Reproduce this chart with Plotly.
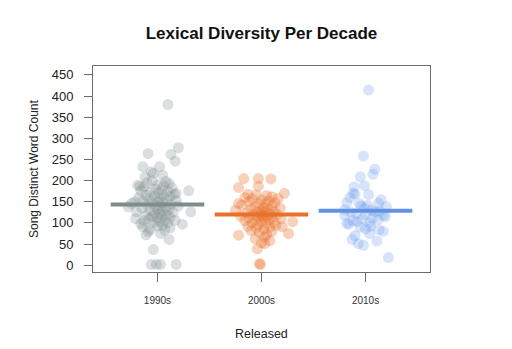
import plotly.graph_objects as go

categories = ["1990s", "2000s", "2010s"]
centre_lines = [143.7, 120.0, 128.6]

# 1990s: distinct word counts and horizontal jitter (category units)
y_1990s = [380, 278, 264, 262, 246, 233, 233, 221, 217, 213, 209, 193, 189, 187, 176, 126, 110, 97, 91, 79, 61, 37, 2, 2, 2, 2,
           200, 198, 195, 190, 188, 185, 183, 180, 178, 176, 175, 172, 170, 168, 166, 165, 163, 162, 160, 158, 157, 155, 153,
           152, 150, 148, 147, 146, 145, 143, 141, 140, 138, 137, 135, 133, 132, 130, 128, 127, 125, 123, 122, 120, 118, 117,
           115, 113, 112, 110, 108, 106, 105, 103, 101, 100, 98, 95, 93, 88, 85, 83, 75, 72, 138, 150, 170]
dx_1990s = [0.10, 0.20, -0.09, 0.13, 0.17, -0.14, 0.02, -0.06, -0.04, 0.05, -0.12, 0.11, -0.19, -0.17, 0.30, 0.32, -0.21, 0.24,
            -0.14, -0.09, 0.11, -0.04, -0.06, -0.01, 0.03, 0.18,
            -0.05, 0.08, -0.10, 0.00, 0.06, -0.13, 0.14, -0.02, 0.04, -0.16, 0.10, -0.07, 0.01, 0.16, -0.11, 0.06, -0.03, 0.12,
            -0.18, 0.02, -0.08, 0.09, 0.18, -0.14, 0.00, 0.05, -0.05, -0.25, 0.13, -0.10, 0.03, 0.20, -0.02, 0.08, -0.15, 0.00,
            0.11, -0.07, 0.05, -0.20, 0.15, -0.03, 0.02, 0.09, -0.11, 0.04, -0.05, 0.12, 0.00, -0.08, 0.07, 0.17, -0.13, 0.02,
            -0.04, 0.10, -0.16, 0.05, 0.00, 0.12, -0.07, 0.07, 0.03, -0.11, -0.28, -0.22, 0.18]

y_2000s = [205, 205, 204, 184, 187, 170, 146, 103, 91, 75, 71, 67, 53, 51, 39, 4, 2,
           168, 166, 165, 162, 160, 158, 157, 155, 152, 150, 148, 146, 145, 142, 140, 138, 136, 135, 133, 131, 130, 129, 127,
           126, 125, 124, 122, 121, 120, 119, 118, 117, 116, 115, 114, 112, 111, 110, 108, 107, 105, 104, 102, 100, 98, 96,
           94, 92, 90, 88, 85, 82, 80, 77, 72, 63, 58]
dx_2000s = [-0.17, -0.03, 0.09, -0.22, -0.03, 0.22, -0.22, 0.30, 0.20, 0.26, -0.22, 0.03, 0.00, 0.03, -0.04, -0.02, -0.01,
            -0.13, -0.05, 0.05, 0.10, -0.16, 0.16, -0.09, 0.00, 0.07, -0.12, 0.13, -0.02, 0.04, -0.19, 0.10, -0.06, 0.02, 0.18,
            -0.10, 0.06, -0.25, 0.00, 0.12, -0.04, 0.03, -0.14, 0.08, -0.01, 0.15, -0.08, 0.01, 0.05, -0.20, -0.03, 0.10, -0.12,
            0.02, 0.19, -0.06, 0.07, -0.16, 0.00, 0.12, -0.09, 0.04, -0.03, 0.14, -0.13, 0.08, -0.05, 0.02, -0.10, 0.10, -0.02,
            0.05, -0.06, 0.08]

y_2010s = [414, 258, 227, 215, 209, 185, 188, 170, 168, 167, 148, 146, 147, 138, 118, 118, 99, 97, 103, 100, 80, 61, 51, 47,
           57, 18, 140, 142, 135, 130, 125, 122, 128, 126, 120, 131, 110, 112, 105, 108, 90, 86, 92, 70, 75, 84, 155, 160, 115]
dx_2010s = [0.03, -0.02, 0.09, 0.07, -0.05, -0.11, -0.01, -0.12, -0.10, 0.03, -0.18, -0.06, 0.125, 0.20, -0.20, 0.17, -0.18,
            -0.16, -0.08, 0.04, 0.17, -0.13, -0.07, -0.02, 0.11, 0.22, -0.04, 0.02, -0.01, 0.06, -0.14, -0.09, 0.14, 0.09, 0.00,
            -0.20, -0.03, 0.07, -0.12, 0.12, -0.05, 0.00, 0.05, -0.10, 0.04, 0.13, 0.15, -0.15, 0.19]

point_colors = ["rgba(127,140,141,0.28)", "rgba(232,112,42,0.32)", "rgba(100,149,237,0.25)"]
line_colors = ["rgb(127,140,140)", "rgb(232,112,42)", "rgb(96,146,232)"]

groups = [(y_1990s, dx_1990s), (y_2000s, dx_2000s), (y_2010s, dx_2010s)]

fig = go.Figure()
for i, (ys, dxs) in enumerate(groups):
    fig.add_trace(go.Scatter(
        x=[i + d for d in dxs], y=ys, mode="markers",
        marker=dict(size=11, color=point_colors[i], line=dict(width=0)),
        showlegend=False, hoverinfo="skip"))
for i, c in enumerate(centre_lines):
    fig.add_trace(go.Scatter(
        x=[i - 0.45, i + 0.45], y=[c, c], mode="lines",
        line=dict(color=line_colors[i], width=4),
        showlegend=False, hoverinfo="skip"))

axis_col = "#6b6b6b"
fig.update_layout(
    width=512, height=349,
    margin=dict(l=93, r=82, t=66, b=77),
    paper_bgcolor="white", plot_bgcolor="white",
    font=dict(family="Liberation Sans, Arial, sans-serif", color="#222"),
    title=dict(text="<b>Lexical Diversity Per Decade</b>", x=0.5, xanchor="center", xref="paper",
               y=1 - 33 / 349, yanchor="middle", yref="container",
               font=dict(size=17, color="#111")),
    xaxis=dict(range=[-0.62, 2.62], tickmode="array", tickvals=[0, 1, 2], ticktext=categories,
               showgrid=False, zeroline=False, showline=True, linecolor=axis_col, linewidth=1, mirror=True,
               ticks="outside", ticklen=9, tickcolor=axis_col, tickwidth=1,
               tickfont=dict(size=10, color="#333"), ticklabelstandoff=10),
    yaxis=dict(range=[-16, 471], tickmode="array", tickvals=list(range(0, 451, 50)),
               showgrid=False, zeroline=False, showline=True, linecolor=axis_col, linewidth=1, mirror=True,
               ticks="outside", ticklen=8, tickcolor=axis_col, tickwidth=1,
               tickfont=dict(size=13, color="#222"), ticklabelstandoff=8),
    annotations=[
        dict(text="Released", xref="paper", yref="paper", x=0.5, y=(272 - 334) / 206,
             xanchor="center", yanchor="middle", showarrow=False, font=dict(size=12.5, color="#222")),
        dict(text="Song Distinct Word Count", xref="paper", yref="paper", x=(34 - 93) / 337, y=0.5,
             xanchor="center", yanchor="middle", textangle=-90, showarrow=False,
             font=dict(size=12, color="#222")),
    ],
)

fig.write_html("out.html")
